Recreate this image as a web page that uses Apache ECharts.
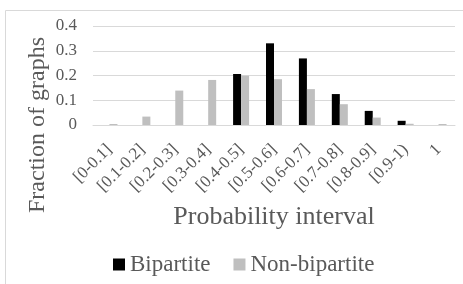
<!DOCTYPE html>
<html>
<head>
<meta charset="utf-8">
<script src="https://cdn.jsdelivr.net/npm/echarts@6/dist/echarts.min.js"></script>
<style>
  html, body { margin: 0; padding: 0; background: #fff; }
  #main { width: 463px; height: 284px; }
</style>
</head>
<body>
<div id="main"></div>
<script>
// 数据
var categories = ['[0-0.1]', '[0.1-0.2]', '[0.2-0.3]', '[0.3-0.4]', '[0.4-0.5]', '[0.5-0.6]',
                  '[0.6-0.7]', '[0.7-0.8]', '[0.8-0.9]', '[0.9-1)', '1'];
var bipartite = [0, 0, 0, 0, 0.206, 0.33, 0.269, 0.125, 0.057, 0.017, 0];
var nonBipartite = [0.004, 0.034, 0.139, 0.182, 0.199, 0.185, 0.145, 0.084, 0.03, 0.005, 0.004];
var yTicks = [0, 0.1, 0.2, 0.3, 0.4];

var font = 'Liberation Serif';
var textColor = '#595959';

var myChart = echarts.init(document.getElementById('main'));

var option = {
    animation: false,
    textStyle: { fontFamily: font },
    graphic: [{
        // 外框
        type: 'rect',
        shape: { x: 5.5, y: 10.5, width: 470, height: 300 },
        style: { fill: 'none', stroke: '#d9d9d9', lineWidth: 1 },
        silent: true
    }, {
        // y轴标题 (竖排, 居中在 y=125 左右)
        type: 'text',
        x: 38,
        y: 125,
        rotation: Math.PI / 2,
        style: {
            text: 'Fraction of graphs',
            font: '24px "Liberation Serif"',
            fill: textColor,
            align: 'center',
            verticalAlign: 'middle'
        },
        silent: true
    }],
    grid: { left: 93, right: 8, top: 26, bottom: 159 },
    legend: {
        top: 248,
        left: 108,
        itemWidth: 12,
        itemHeight: 12,
        itemGap: 23,
        icon: 'rect',
        textStyle: { fontFamily: font, fontSize: 23, color: textColor },
        data: ['Bipartite', 'Non-bipartite']
    },
    xAxis: {
        type: 'category',
        data: categories,
        name: 'Probability interval',
        nameLocation: 'middle',
        nameGap: 79,
        nameTextStyle: { fontFamily: font, fontSize: 26, color: textColor },
        axisLine: { lineStyle: { color: '#d9d9d9' } },
        axisTick: { show: false },
        axisLabel: {
            interval: 0,
            rotate: 45,
            fontFamily: font,
            fontSize: 17,
            color: textColor,
            margin: 22
        }
    },
    yAxis: {
        type: 'value',
        min: 0,
        max: 0.4,
        interval: 0.1,
        axisLine: { show: false },
        axisTick: { show: false },
        splitLine: { lineStyle: { color: '#d9d9d9' } },
        axisLabel: {
            fontFamily: font,
            fontSize: 17,
            color: textColor,
            margin: 16,
            formatter: function (v) {
                return yTicks.indexOf(+v.toFixed(1)) >= 0 ? String(+v.toFixed(1)) : '';
            }
        }
    },
    series: [{
        name: 'Bipartite',
        type: 'bar',
        data: bipartite,
        barWidth: 8,
        barGap: '0%',
        itemStyle: { color: '#000000' }
    }, {
        name: 'Non-bipartite',
        type: 'bar',
        data: nonBipartite,
        barWidth: 8,
        itemStyle: { color: '#bfbfbf' }
    }]
};

myChart.setOption(option);
</script>
</body>
</html>
